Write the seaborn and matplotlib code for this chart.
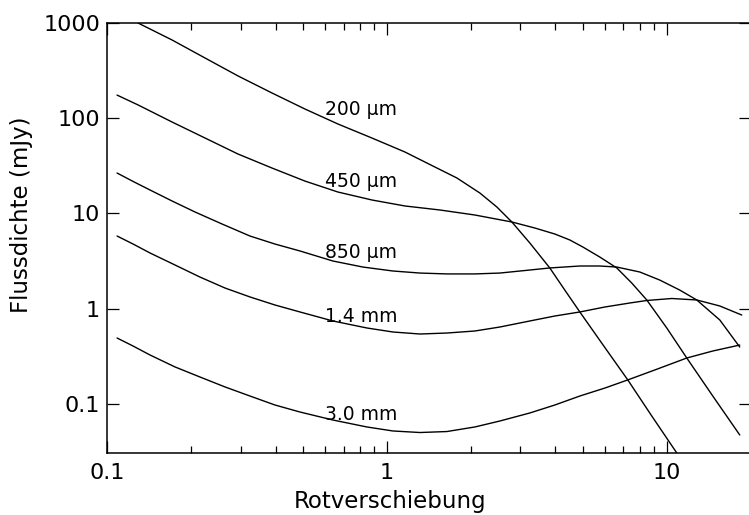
import numpy as np
import pandas as pd
import matplotlib
matplotlib.use("Agg")
import matplotlib.pyplot as plt
import matplotlib.ticker as mticker
import seaborn as sns

# ----------------------------------------------------------------------
# data (redshift vs. flux density, log-log)
# ----------------------------------------------------------------------
z_200 = [0.129, 0.1707, 0.2239, 0.2937, 0.3886, 0.5094, 0.6683, 0.8839, 1.160,
         1.460, 1.778, 2.149, 2.471, 2.796, 3.241, 3.820, 4.322, 4.891, 5.957,
         7.256, 8.839, 10.86]
s_200 = [1000, 663, 429, 278, 184, 125, 87.0, 62.0, 44.2,
         31.5, 23.6, 16.4, 11.7, 8.14, 4.90, 2.68, 1.57, 0.925, 0.406,
         0.179, 0.0748, 0.0306]

z_450 = [0.1086, 0.129, 0.1707, 0.2239, 0.2937, 0.3886, 0.5094, 0.6683, 0.8839,
         1.160, 1.547, 2.062, 2.796, 3.377, 3.981, 4.504, 5.012, 5.764, 6.629,
         7.499, 8.483, 10.0, 11.79, 14.60, 18.23]
s_450 = [175, 138, 91.3, 62.0, 42.1, 30.0, 21.9, 16.8, 13.86,
         11.99, 10.88, 9.64, 8.14, 7.04, 6.09, 5.27, 4.45, 3.49, 2.68,
         1.86, 1.236, 0.628, 0.304, 0.1213, 0.0473]

z_850 = [0.1086, 0.1239, 0.1424, 0.1707, 0.2062, 0.2575, 0.3241, 0.3981, 0.4891,
         0.6414, 0.8208, 1.051, 1.312, 1.638, 2.062, 2.533, 3.241, 3.820, 4.891,
         5.764, 6.629, 8.010, 9.441, 11.13, 12.80, 15.47, 18.23]
s_850 = [26.6, 21.7, 17.65, 13.53, 10.37, 7.76, 5.80, 4.78, 4.04,
         3.17, 2.74, 2.49, 2.37, 2.32, 2.32, 2.37, 2.55, 2.68, 2.81,
         2.81, 2.74, 2.43, 2.00, 1.57, 1.236, 0.762, 0.396]

z_1400 = [0.1086, 0.1239, 0.1424, 0.1749, 0.2149, 0.2640, 0.3241, 0.3981, 0.4891,
          0.6414, 0.8483, 1.051, 1.312, 1.638, 2.062, 2.533, 3.241, 3.981, 4.891,
          6.007, 7.378, 8.483, 10.42, 12.80, 15.47, 18.53]
s_1400 = [5.80, 4.78, 3.85, 2.88, 2.15, 1.65, 1.33, 1.095, 0.925,
          0.744, 0.628, 0.570, 0.543, 0.556, 0.584, 0.643, 0.744, 0.839, 0.925,
          1.043, 1.149, 1.221, 1.281, 1.236, 1.069, 0.859]

z_3000 = [0.1086, 0.1239, 0.1424, 0.1749, 0.2149, 0.2640, 0.3241, 0.3981, 0.4891,
          0.6414, 0.8483, 1.051, 1.312, 1.638, 2.062, 2.533, 3.241, 3.981, 4.891,
          6.007, 7.256, 9.061, 11.79, 14.60, 18.23]
s_3000 = [0.493, 0.406, 0.327, 0.245, 0.192, 0.151, 0.1213, 0.0976, 0.0824,
          0.0679, 0.0574, 0.0521, 0.0502, 0.0514, 0.0574, 0.0663, 0.0805, 0.0976, 0.1213,
          0.147, 0.179, 0.2276, 0.304, 0.360, 0.416]

bands = ["200 µm", "450 µm", "850 µm", "1.4 mm", "3.0 mm"]
series = [(z_200, s_200), (z_450, s_450), (z_850, s_850),
          (z_1400, s_1400), (z_3000, s_3000)]

# where the curve names sit (data coords: left edge, baseline)
label_pos = [(0.60, 108), (0.60, 19.0), (0.60, 3.41), (0.60, 0.726), (0.60, 0.0679)]

df = pd.concat(
    [pd.DataFrame({"z": z, "S": s, "band": b}) for b, (z, s) in zip(bands, series)],
    ignore_index=True,
)

# ----------------------------------------------------------------------
# plot
# ----------------------------------------------------------------------
sns.set_theme(style="ticks")
plt.rcParams["font.family"] = ["DejaVu Sans"]

fig = plt.figure(figsize=(7.49, 5.15), dpi=100)
ax = fig.add_axes([0.1429, 0.1204, 0.8598, 0.8350])
ax.set_xscale("log")
ax.set_yscale("log")

sns.lineplot(data=df, x="z", y="S", hue="band", units="band", estimator=None,
             palette={b: "black" for b in bands}, linewidth=1.0, legend=False,
             sort=False, ax=ax)

for name, (lx, ly) in zip(bands, label_pos):
    ax.text(lx, ly, name, fontsize=13.5, ha="left", va="baseline", color="black")

ax.set_xlim(0.1, 20)
ax.set_ylim(0.0306, 1000)

ax.xaxis.set_major_locator(mticker.LogLocator(base=10, numticks=10))
ax.xaxis.set_minor_locator(mticker.LogLocator(base=10, subs=np.arange(2, 10), numticks=20))
ax.xaxis.set_major_formatter(mticker.FuncFormatter(lambda v, p: f"{v:g}"))
ax.xaxis.set_minor_formatter(mticker.NullFormatter())
ax.yaxis.set_major_locator(mticker.LogLocator(base=10, numticks=10))
ax.yaxis.set_minor_locator(mticker.NullLocator())
ax.yaxis.set_major_formatter(mticker.FuncFormatter(lambda v, p: f"{v:g}"))

ax.tick_params(which="both", direction="in", top=True, right=True,
               colors="black", width=0.9)
ax.tick_params(which="major", length=8.5, labelsize=16)
ax.tick_params(axis="x", which="major", pad=7)
ax.tick_params(axis="y", which="major", pad=5)
ax.tick_params(which="minor", length=4.8)

for sp in ax.spines.values():
    sp.set_color("black")
    sp.set_linewidth(1.1)

ax.set_xlabel("Rotverschiebung", fontsize=16.5, color="black")
ax.set_ylabel("Flussdichte (mJy)", fontsize=16.5, color="black")
ax.xaxis.set_label_coords(0.4394, -0.086)
ax.yaxis.set_label_coords(-0.115, 0.5535)

fig.savefig("out.png", dpi=100, facecolor="white")
